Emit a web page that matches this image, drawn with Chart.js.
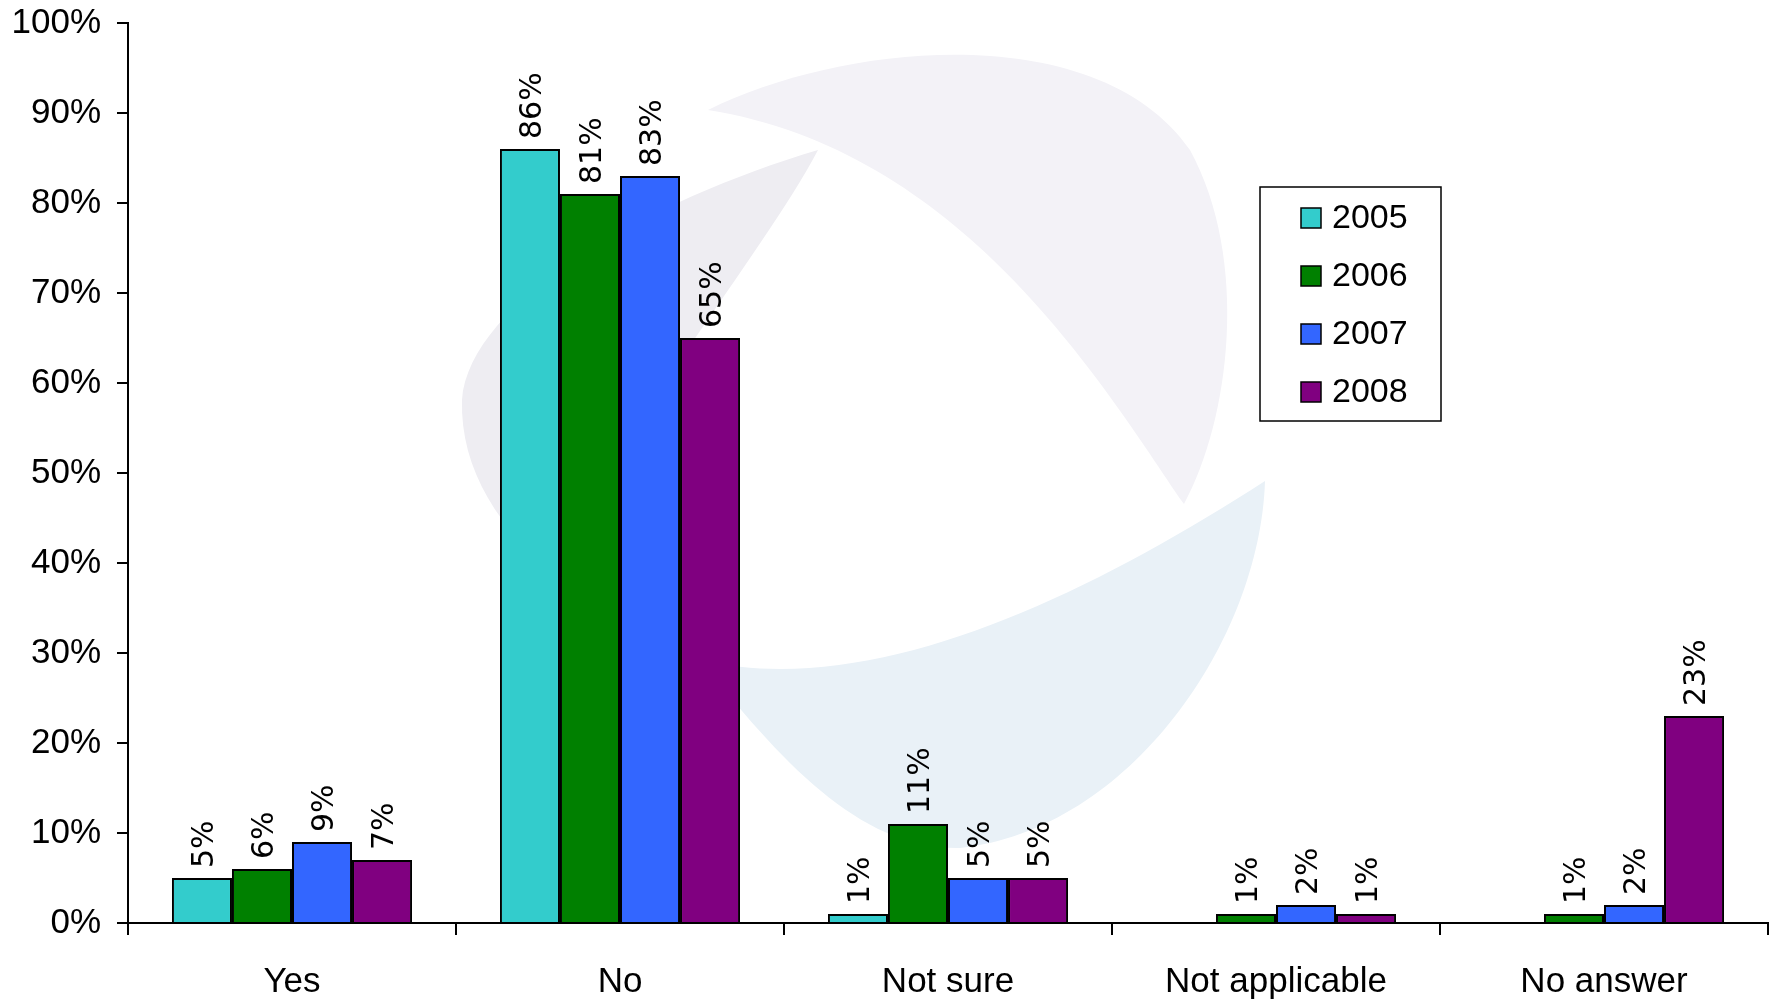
<!DOCTYPE html>
<html>
<head>
<meta charset="utf-8">
<title>Survey answers 2005-2008</title>
<script src="https://cdn.jsdelivr.net/npm/chart.js@4.4.0/dist/chart.umd.min.js"></script>
<style>
  html, body { margin: 0; padding: 0; background: #fff; }
  #wrap { width: 1776px; height: 1000px; position: relative; }
</style>
</head>
<body>
<div id="wrap"><canvas id="answerChart"></canvas></div>
<script>
// data
const categories = ["Yes", "No", "Not sure", "Not applicable", "No answer"];
const years = ["2005", "2006", "2007", "2008"];
const s2005 = [5, 86, 1, null, null];
const s2006 = [6, 81, 11, 1, 1];
const s2007 = [9, 83, 5, 2, 2];
const s2008 = [7, 65, 5, 1, 23];
const yTicks = [0, 10, 20, 30, 40, 50, 60, 70, 80, 90, 100];

const colors = ["#33CCCC", "#008000", "#3366FF", "#800080"];
const fontFamily = "'Liberation Sans', Arial, sans-serif";

// faint logo swirl behind the bars
const watermark = {
  id: "watermark",
  beforeDatasetsDraw(chart) {
    const c = chart.ctx;
    c.save();
    // top right petal
    c.fillStyle = "#f3f2f7";
    c.beginPath();
    c.moveTo(708, 110);
    c.bezierCurveTo(850, 40, 1100, 20, 1190, 150);
    c.bezierCurveTo(1250, 260, 1230, 420, 1184, 504);
    c.bezierCurveTo(1100, 380, 960, 150, 708, 110);
    c.fill();
    // left petal
    c.fillStyle = "#eeedf2";
    c.beginPath();
    c.moveTo(818, 150);
    c.bezierCurveTo(650, 200, 470, 300, 462, 400);
    c.bezierCurveTo(460, 470, 500, 530, 560, 580);
    c.bezierCurveTo(620, 420, 760, 260, 818, 150);
    c.fill();
    // bottom crescent
    c.fillStyle = "#e9f1f7";
    c.beginPath();
    c.moveTo(1265, 481);
    c.bezierCurveTo(1260, 640, 1130, 830, 960, 848);
    c.bezierCurveTo(860, 850, 780, 760, 700, 660);
    c.bezierCurveTo(870, 700, 1080, 600, 1265, 481);
    c.fill();
    c.restore();
  }
};

// rotated value labels above the bars
const valueLabels = {
  id: "valueLabels",
  afterDatasetsDraw(chart) {
    const c = chart.ctx;
    c.save();
    c.font = "30px 'DejaVu Sans', sans-serif";
    c.fillStyle = "#000";
    c.textAlign = "left";
    c.textBaseline = "middle";
    chart.data.datasets.forEach((ds, i) => {
      const meta = chart.getDatasetMeta(i);
      meta.data.forEach((bar, j) => {
        const v = ds.data[j];
        if (v === null || v === undefined) return;
        c.save();
        c.translate(bar.x + 3, bar.y - 10);
        c.rotate(-Math.PI / 2);
        c.fillText(v + "%", 0, 0);
        c.restore();
      });
    });
    c.restore();
  }
};

// boxed legend inside the plot, top right
const boxLegend = {
  id: "boxLegend",
  afterDraw(chart) {
    const c = chart.ctx;
    c.save();
    c.fillStyle = "#fff";
    c.fillRect(1260, 187, 181, 234);
    c.strokeStyle = "#000";
    c.lineWidth = 1.5;
    c.strokeRect(1260, 187, 181, 234);
    c.font = "34px " + fontFamily;
    c.textBaseline = "middle";
    c.textAlign = "left";
    chart.data.datasets.forEach((ds, i) => {
      const y = 218 + i * 58;
      c.fillStyle = ds.backgroundColor;
      c.fillRect(1301, y - 10, 20, 20);
      c.lineWidth = 1.5;
      c.strokeRect(1301, y - 10, 20, 20);
      c.fillStyle = "#000";
      c.fillText(ds.label, 1332, y + 1);
    });
    c.restore();
  }
};

const seriesData = [s2005, s2006, s2007, s2008];

new Chart(document.getElementById("answerChart"), {
  type: "bar",
  data: {
    labels: categories,
    datasets: years.map((y, i) => ({
      label: y,
      data: seriesData[i],
      backgroundColor: colors[i],
      borderColor: "#000",
      borderWidth: 2,
      categoryPercentage: 0.732,
      barPercentage: 1.0,
    })),
  },
  options: {
    responsive: true,
    maintainAspectRatio: false,
    animation: false,
    layout: { padding: { top: 23, right: 8, left: 0, bottom: 0 } },
    plugins: {
      legend: { display: false },
      tooltip: { enabled: false },
    },
    scales: {
      x: {
        grid: {
          display: true,
          offset: true,
          drawOnChartArea: false,
          drawTicks: true,
          tickLength: 12,
          color: "#000",
          lineWidth: 2,
        },
        border: { color: "#000", width: 2 },
        ticks: { color: "#000", font: { family: fontFamily, size: 35 }, padding: 26 },
        afterFit(s) { s.height = 77; s.paddingLeft = 0; s.paddingRight = 0; },
      },
      y: {
        min: 0,
        max: 100,
        afterBuildTicks(s) { s.ticks = yTicks.map(v => ({ value: v })); },
        grid: {
          display: true,
          drawOnChartArea: false,
          drawTicks: true,
          tickLength: 11,
          color: "#000",
          lineWidth: 2,
        },
        border: { color: "#000", width: 2 },
        ticks: {
          color: "#000",
          font: { family: fontFamily, size: 35 },
          padding: 16,
          callback: v => v + "%",
        },
        afterFit(s) { s.width = 128; s.paddingTop = 0; s.paddingBottom = 0; },
      },
    },
  },
  plugins: [watermark, valueLabels, boxLegend],
});
</script>
</body>
</html>
